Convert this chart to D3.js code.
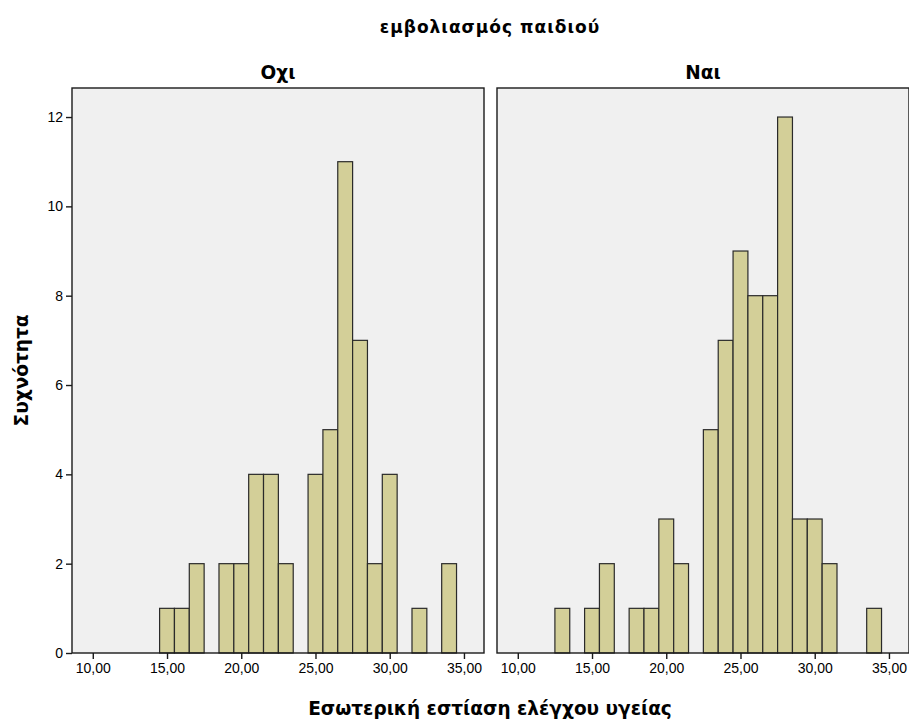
<!DOCTYPE html>
<html>
<head>
<meta charset="utf-8">
<script src="https://cdn.jsdelivr.net/npm/d3@7"></script>
<style>
  body { margin: 0; background: #fff; }
  text { font-family: "Liberation Sans", Arial, sans-serif; fill: #000; }
</style>
</head>
<body>
<div id="graphContainer"></div>
<script>
// histogram data (bin centre -> count), bins 1 unit wide
var panels = ["Οχι", "Ναι"];
var binsNo  = [15, 16, 17, 19, 20, 21, 22, 23, 25, 26, 27, 28, 29, 30, 32, 34];
var countsNo = [1, 1, 2, 2, 2, 4, 4, 2, 4, 5, 11, 7, 2, 4, 1, 2];
var binsYes = [13, 15, 16, 18, 19, 20, 21, 23, 24, 25, 26, 27, 28, 29, 30, 31, 34];
var countsYes = [1, 1, 2, 1, 1, 3, 2, 5, 7, 9, 8, 8, 12, 3, 3, 2, 1];
var xTicks = [10, 15, 20, 25, 30, 35];
var yTicks = [0, 2, 4, 6, 8, 10, 12];

var width = 909, height = 722;
var svg = d3.select("#graphContainer").append("svg")
    .attr("width", width).attr("height", height);

// panel layout
var plotTop = 88, plotBottom = 653;
var panelX = [72, 497], panelW = 412;

var y = d3.scaleLinear().domain([0, 12.65]).range([plotBottom, plotTop]);
var fmt = function (d) { return d3.format(".2f")(d).replace(".", ","); };

var series = [
    binsNo.map(function (b, i) { return {bin: b, n: countsNo[i]}; }),
    binsYes.map(function (b, i) { return {bin: b, n: countsYes[i]}; })
];

panels.forEach(function (name, p) {
    var x = d3.scaleLinear().domain([8.6, 36.35]).range([panelX[p], panelX[p] + panelW]);
    var g = svg.append("g");

    g.append("rect")
        .attr("x", panelX[p]).attr("y", plotTop)
        .attr("width", panelW).attr("height", plotBottom - plotTop)
        .attr("fill", "#f0f0f0");

    g.selectAll(".bar").data(series[p]).enter().append("rect")
        .attr("class", "bar")
        .attr("x", function (d) { return x(d.bin - 0.5); })
        .attr("y", function (d) { return y(d.n); })
        .attr("width", function (d) { return x(d.bin + 0.5) - x(d.bin - 0.5); })
        .attr("height", function (d) { return plotBottom - y(d.n); })
        .attr("fill", "#d3cf98")
        .attr("stroke", "#2a2a2a")
        .attr("stroke-width", 1.2);

    g.append("rect")
        .attr("x", panelX[p]).attr("y", plotTop)
        .attr("width", panelW).attr("height", plotBottom - plotTop)
        .attr("fill", "none").attr("stroke", "#1a1a1a").attr("stroke-width", 1.4);

    var xAxis = g.append("g")
        .attr("transform", "translate(0," + plotBottom + ")")
        .call(d3.axisBottom(x).tickValues(xTicks).tickFormat(fmt).tickSize(6).tickPadding(4));
    xAxis.select(".domain").remove();
    xAxis.selectAll("line").attr("stroke", "#1a1a1a").attr("stroke-width", 1.4);
    xAxis.selectAll("text").attr("font-size", 14).attr("fill", "#222");

    g.append("text")
        .attr("x", panelX[p] + panelW / 2).attr("y", 79)
        .attr("text-anchor", "middle")
        .attr("font-size", 18.5).attr("font-weight", "bold")
        .style("font-family", "'DejaVu Sans', sans-serif")
        .text(name);
});

var yAxis = svg.append("g")
    .attr("transform", "translate(" + panelX[0] + ",0)")
    .call(d3.axisLeft(y).tickValues(yTicks).tickSize(6).tickPadding(3));
yAxis.select(".domain").remove();
yAxis.selectAll("line").attr("stroke", "#1a1a1a").attr("stroke-width", 1.4);
yAxis.selectAll("text").attr("font-size", 14).attr("fill", "#222");

svg.append("text")
    .attr("x", 490).attr("y", 33)
    .attr("text-anchor", "middle")
    .attr("font-size", 17).attr("font-weight", "bold")
    .attr("letter-spacing", 1)
    .style("font-family", "'DejaVu Sans', sans-serif")
    .text("εμβολιασμός παιδιού");

svg.append("text")
    .attr("x", 490).attr("y", 715)
    .attr("text-anchor", "middle")
    .attr("font-size", 18.5).attr("font-weight", "bold")
    .style("font-family", "'DejaVu Sans', sans-serif")
    .text("Εσωτερική εστίαση ελέγχου υγείας");

svg.append("text")
    .attr("transform", "translate(28," + (plotTop + plotBottom) / 2 + ") rotate(-90)")
    .attr("text-anchor", "middle")
    .attr("font-size", 18.5).attr("font-weight", "bold")
    .style("font-family", "'DejaVu Sans', sans-serif")
    .text("Συχνότητα");
</script>
</body>
</html>
